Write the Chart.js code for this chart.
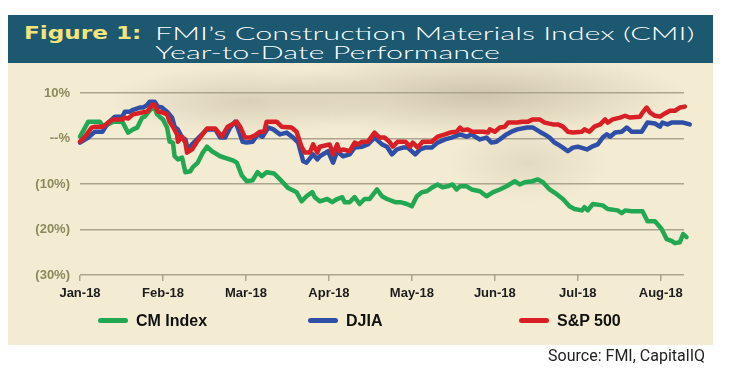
<!DOCTYPE html>
<html>
<head>
<meta charset="utf-8">
<script src="https://cdn.jsdelivr.net/npm/chart.js@4.4.0/dist/chart.umd.min.js"></script>
<style>
  html, body { margin: 0; padding: 0; background: #fff; }
  #wrap { position: relative; width: 736px; height: 375px; overflow: hidden; }
  #panel {
    position: absolute; left: 8px; top: 63px; width: 705px; height: 282px;
    background:
      radial-gradient(ellipse 210px 42px at 470px 32px, rgba(150,140,115,0.40), rgba(150,140,115,0) 100%),
      radial-gradient(ellipse 140px 35px at 240px 38px, rgba(150,140,115,0.28), rgba(150,140,115,0) 100%),
      radial-gradient(ellipse 80px 40px at 520px 100px, rgba(150,140,115,0.18), rgba(150,140,115,0) 100%),
      #f4ebd3;
  }
  #banner { position: absolute; left: 8px; top: 15px; width: 705px; height: 48px; background: #1c5870; }
  .tt { position: absolute; white-space: nowrap; font-family: Lato, "DejaVu Sans", sans-serif; font-weight: 300; font-size: 18px; line-height: 18px; color: #fff; transform-origin: 0 50%; }
  #fig { color: #f3e47c; font-family: "DejaVu Sans", sans-serif; font-weight: bold; font-size: 17px; left: 16px; top: 9px; }
  #t1 { left: 147px; top: 9px; }
  #t2 { left: 147px; top: 28px; }
  canvas { position: absolute; left: 0; top: 0; }
  .lg { position: absolute; top: 312px; height: 18px; font-family: "Liberation Sans", Arial, sans-serif; font-weight: bold; font-size: 16px; line-height: 18px; color: #111; }
  .lg i { position: absolute; top: 6px; width: 30px; height: 5px; border-radius: 2.5px; }
  .lg span { position: absolute; left: 38px; white-space: nowrap; }
  #src { position: absolute; right: 31px; top: 346px; font-family: "Liberation Sans Narrow", Roboto, sans-serif; font-size: 16px; color: #222; }
</style>
</head>
<body>
<div id="wrap">
  <div id="panel"></div>
  <div id="banner">
    <span class="tt" id="fig">Figure 1:</span>
    <span class="tt" id="t1">FMI’s Construction Materials Index (CMI)</span>
    <span class="tt" id="t2">Year-to-Date Performance</span>
  </div>
  <canvas id="c" width="736" height="375"></canvas>
  <div class="lg" style="left:98px"><i style="background:#22a852"></i><span>CM Index</span></div>
  <div class="lg" style="left:308px"><i style="background:#2f4fa6"></i><span>DJIA</span></div>
  <div class="lg" style="left:519px"><i style="background:#d91f26"></i><span>S&amp;P 500</span></div>
  <div id="src">Source: FMI, CapitalIQ</div>
</div>
<script>
// x = months since 1 Jan 2018, y = YTD change in %
const monthLabels = ['Jan-18', 'Feb-18', 'Mar-18', 'Apr-18', 'May-18', 'Jun-18', 'Jul-18', 'Aug-18'];
const yTickLabels = { '10': '10%', '0': '--%', '-10': '(10%)', '-20': '(20%)', '-30': '(30%)' };

const cmX = [0, 0.10, 0.24, 0.28, 0.34, 0.40, 0.51, 0.58, 0.64, 0.69, 0.75, 0.78, 0.87, 0.89, 0.93, 0.96, 1.00, 1.05, 1.08, 1.12,
  1.14, 1.18, 1.23, 1.27, 1.33, 1.36, 1.42, 1.48, 1.53, 1.59, 1.69, 1.84, 1.89, 1.95, 2.01, 2.08, 2.14, 2.19, 2.25, 2.34,
  2.41, 2.51, 2.61, 2.67, 2.73, 2.80, 2.83, 2.89, 2.98, 3.04, 3.10, 3.16, 3.19, 3.25, 3.31, 3.37, 3.43, 3.49, 3.58, 3.64,
  3.70, 3.80, 3.86, 3.94, 4.00, 4.06, 4.12, 4.18, 4.25, 4.31, 4.37, 4.43, 4.49, 4.54, 4.58, 4.66, 4.72, 4.82, 4.90, 4.98,
  5.06, 5.14, 5.24, 5.30, 5.36, 5.45, 5.52, 5.58, 5.66, 5.75, 5.82, 5.90, 5.96, 6.05, 6.08, 6.12, 6.18, 6.30, 6.36, 6.48,
  6.53, 6.57, 6.65, 6.78, 6.84, 6.93, 7.01, 7.07, 7.13, 7.17, 7.23, 7.27, 7.31, 7.35];
const cmY = [0.4, 3.7, 3.7, 2.6, 3.1, 3.7, 3.7, 1.3, 2.0, 2.4, 4.6, 4.8, 6.8, 7.2, 5.3, 4.8, 4.2, 2.4, -0.7, -0.9,
  -3.9, -4.6, -4.2, -7.4, -7.2, -6.3, -5.3, -3.1, -1.8, -2.8, -3.9, -4.8, -5.3, -8.1, -9.4, -9.2, -7.4, -8.3, -7.4, -7.7,
  -9.0, -10.9, -11.8, -13.8, -12.7, -11.8, -12.9, -13.8, -13.3, -14.0, -13.3, -12.9, -14.0, -14.0, -12.9, -14.4, -13.3, -13.3, -11.2, -12.7,
  -13.3, -14.0, -14.0, -14.4, -14.9, -12.7, -11.8, -11.6, -10.7, -10.1, -10.7, -10.5, -10.1, -11.2, -10.5, -10.5, -11.2, -11.6, -12.7, -11.8,
  -11.2, -10.5, -9.4, -10.1, -9.6, -9.4, -9.0, -9.6, -11.2, -12.3, -13.3, -14.9, -15.5, -15.8, -15.1, -15.8, -14.4, -14.7, -15.5, -15.8,
  -16.4, -15.8, -16.0, -16.0, -18.2, -18.2, -19.9, -22.1, -22.5, -23.0, -22.8, -21.0, -21.7, -21.7];

const djX = [0, 0.10, 0.18, 0.27, 0.34, 0.42, 0.51, 0.54, 0.60, 0.64, 0.72, 0.76, 0.81, 0.84, 0.90, 0.94, 0.99, 1.02, 1.06, 1.11,
  1.14, 1.18, 1.23, 1.27, 1.30, 1.35, 1.41, 1.53, 1.63, 1.69, 1.75, 1.81, 1.87, 1.90, 1.96, 2.01, 2.08, 2.14, 2.20, 2.27,
  2.33, 2.41, 2.49, 2.57, 2.63, 2.69, 2.73, 2.81, 2.86, 2.89, 2.99, 3.05, 3.10, 3.17, 3.25, 3.31, 3.40, 3.47, 3.55, 3.64,
  3.70, 3.76, 3.82, 3.89, 3.95, 4.04, 4.10, 4.16, 4.24, 4.31, 4.40, 4.48, 4.58, 4.66, 4.72, 4.78, 4.82, 4.90, 4.96, 5.02,
  5.06, 5.14, 5.20, 5.27, 5.39, 5.46, 5.54, 5.60, 5.66, 5.72, 5.76, 5.82, 5.88, 5.94, 6.00, 6.11, 6.17, 6.24, 6.30, 6.35,
  6.39, 6.45, 6.53, 6.59, 6.65, 6.77, 6.84, 6.93, 6.99, 7.02, 7.08, 7.13, 7.27, 7.35];
const djY = [-0.9, 0.2, 1.5, 1.5, 3.5, 4.8, 4.8, 5.9, 5.9, 6.3, 6.8, 6.8, 7.4, 8.1, 8.1, 7.0, 6.8, 6.3, 5.7, 4.6,
  2.6, 2.0, 0.2, -0.2, -2.4, -1.3, -0.2, 2.0, 2.0, 0.2, 0.2, 2.4, 3.7, 2.4, -0.7, -0.9, -0.7, 0.9, 0.4, 2.4,
  2.0, 0.9, 1.3, 0.2, -0.9, -5.0, -5.3, -3.5, -4.6, -3.9, -2.8, -5.3, -2.8, -3.9, -3.5, -2.0, -1.8, -1.3, 0.2, -1.3,
  -1.8, -3.5, -2.4, -2.0, -2.0, -3.5, -2.4, -2.0, -2.0, -0.9, -0.2, 0.2, 0.9, 0.4, 0.9, 0.2, -0.2, 0.2, -0.9, -0.7,
  -0.2, 0.9, 1.5, 2.0, 2.4, 2.4, 1.5, 0.9, 0.2, -0.9, -1.3, -2.0, -2.8, -2.0, -1.8, -2.4, -1.8, -1.3, 0.2, 0.9,
  0.4, 1.3, 1.5, 2.4, 1.5, 1.5, 3.5, 3.3, 2.6, 3.5, 3.1, 3.5, 3.5, 3.1];

const spX = [0, 0.06, 0.14, 0.18, 0.28, 0.34, 0.40, 0.51, 0.54, 0.58, 0.64, 0.75, 0.81, 0.87, 0.90, 0.94, 1.00, 1.05, 1.08, 1.12,
  1.17, 1.18, 1.23, 1.27, 1.29, 1.35, 1.41, 1.53, 1.63, 1.71, 1.78, 1.89, 1.93, 1.99, 2.05, 2.11, 2.17, 2.22, 2.25, 2.37,
  2.43, 2.55, 2.61, 2.67, 2.71, 2.77, 2.81, 2.86, 2.89, 3.01, 3.05, 3.10, 3.13, 3.17, 3.25, 3.31, 3.35, 3.40, 3.47, 3.55,
  3.61, 3.67, 3.73, 3.77, 3.83, 3.92, 3.98, 4.01, 4.07, 4.13, 4.24, 4.31, 4.40, 4.46, 4.54, 4.58, 4.61, 4.67, 4.73, 4.86,
  4.92, 4.94, 5.00, 5.06, 5.12, 5.16, 5.27, 5.33, 5.40, 5.46, 5.54, 5.60, 5.70, 5.76, 5.82, 5.88, 5.94, 6.05, 6.08, 6.14,
  6.20, 6.27, 6.33, 6.36, 6.42, 6.51, 6.57, 6.63, 6.75, 6.78, 6.83, 6.87, 6.93, 6.99, 7.05, 7.11, 7.17, 7.23, 7.29, 7.35];
const spY = [-0.7, 0.4, 2.4, 2.6, 2.6, 3.5, 4.2, 4.2, 4.6, 4.4, 5.3, 5.7, 5.9, 7.4, 7.4, 5.9, 5.7, 5.3, 3.7, 2.6,
  0.9, -0.7, 0.4, -0.9, -3.1, -2.4, -0.7, 2.2, 2.2, 0.4, 2.6, 3.7, 2.6, 0.2, 0.2, 0.7, 1.5, 1.5, 3.7, 3.7,
  2.6, 2.4, 1.5, -1.8, -3.1, -3.1, -1.3, -3.1, -1.8, -1.3, -3.5, -1.3, -2.8, -2.4, -2.8, -0.9, -1.3, -0.7, -0.7, 1.3,
  0.2, 0.2, -0.7, -1.8, -0.7, -0.7, -1.8, -0.9, -2.0, -0.7, -0.7, 0.4, 0.9, 1.3, 1.5, 2.4, 1.8, 2.0, 1.5, 1.5,
  1.3, 2.0, 1.5, 2.4, 2.6, 3.5, 3.5, 3.7, 3.7, 4.2, 4.2, 3.5, 3.1, 3.1, 2.6, 1.5, 1.3, 1.5, 2.0, 1.5,
  2.6, 3.1, 4.2, 3.5, 4.2, 4.6, 5.0, 4.6, 4.8, 5.7, 6.8, 5.7, 5.0, 4.8, 5.5, 6.1, 6.1, 6.8, 7.0, 7.0];

function pts(xs, ys) { return xs.map((x, i) => ({ x: x, y: ys[i] })); }

function lineSet(label, xs, ys, color, order) {
  return {
    label: label, data: pts(xs, ys), borderColor: color, backgroundColor: color,
    borderWidth: 4.5, pointRadius: 0, tension: 0, borderJoinStyle: 'round', borderCapStyle: 'round',
    clip: false, order: order
  };
}

const gridColor = '#aba590';

new Chart(document.getElementById('c'), {
  type: 'line',
  data: {
    datasets: [
      lineSet('CM Index', cmX, cmY, '#22a852', 3),
      lineSet('DJIA', djX, djY, '#2f4fa6', 2),
      lineSet('S&P 500', spX, spY, '#d91f26', 1)
    ]
  },
  options: {
    responsive: false,
    animation: false,
    events: [],
    layout: { padding: { top: 93, right: 52, bottom: 0, left: 0 } },
    plugins: { legend: { display: false }, tooltip: { enabled: false } },
    scales: {
      x: {
        type: 'linear', min: 0, max: 7.28,
        afterBuildTicks: s => { s.ticks = monthLabels.map((l, i) => ({ value: i })); },
        afterFit: s => { s.height = 100; },
        border: { display: false },
        grid: { drawOnChartArea: false, color: gridColor, lineWidth: 1.5, tickLength: 6 },
        ticks: {
          callback: v => monthLabels[v], maxRotation: 0, autoSkip: false, padding: 5,
          color: '#1c1c1c', font: { family: 'Liberation Sans', weight: 'bold', size: 13 }
        }
      },
      y: {
        min: -30, max: 10,
        afterFit: s => { s.width = 80; },
        border: { display: false },
        grid: { color: gridColor, lineWidth: 1.5, drawTicks: false },
        ticks: {
          stepSize: 10, padding: 10,
          callback: v => yTickLabels[String(v)],
          color: '#8b8a5c', font: { family: 'Liberation Sans', weight: 'bold', size: 13 }
        }
      }
    }
  }
});

// stretch the title text to the wide look of the original
function stretch(id, width) {
  const el = document.getElementById(id);
  el.style.transform = 'none';
  const k = width / el.offsetWidth;
  el.style.transform = 'scaleX(' + k + ')';
  return k;
}
function fitTitle() {
  stretch('fig', 117);
  const k = stretch('t1', 540);
  document.getElementById('t2').style.transform = 'scaleX(' + k + ')';
}
fitTitle();
document.fonts.ready.then(fitTitle);
</script>
</body>
</html>
